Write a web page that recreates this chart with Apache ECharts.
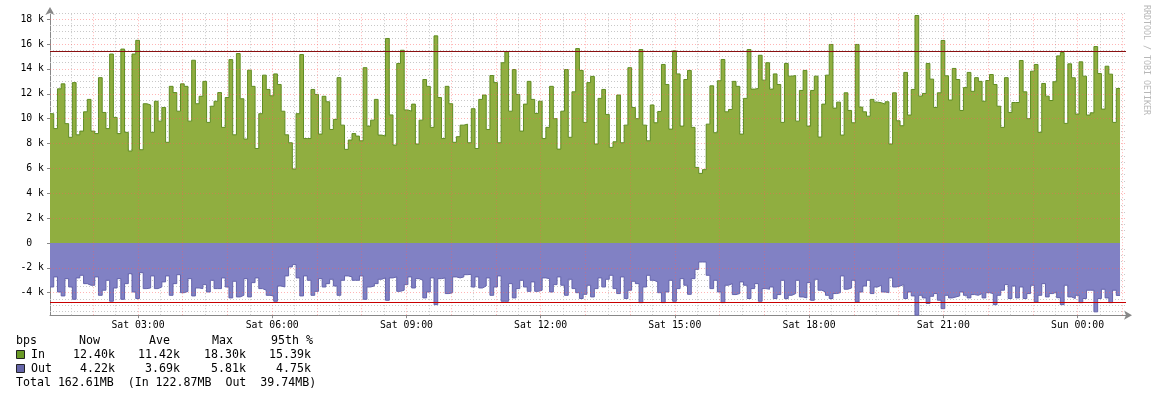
<!DOCTYPE html>
<html>
<head>
<meta charset="utf-8">
<style>
  html, body { margin: 0; padding: 0; background: #fff; }
  #chart { width: 1156px; height: 397px; }
</style>
<script src="https://cdn.jsdelivr.net/npm/echarts@6/dist/echarts.min.js"></script>
</head>
<body>
<div id="chart"></div>
<script>
// traffic samples, 5 minute steps, values in k bits per second
const startMinute = 62 // Sat 01:02
const stepMinutes = 5

const inValues = [
  10.4, 9.2, 12.4, 12.8, 9.6, 8.5, 12.9, 8.7, 9.0, 10.55, 11.55, 9.0, 8.8, 13.3, 10.5, 9.2, 15.2, 10.1, 8.8, 15.6,
  8.9, 7.4, 15.2, 16.3, 7.5, 11.2, 11.1, 8.9, 11.4, 9.8, 10.9, 8.1, 12.6, 12.1, 10.6, 12.8, 12.6, 9.8, 14.7, 11.2,
  11.8, 13.0, 9.7, 11.0, 11.4, 12.1, 9.3, 11.7, 14.75,
  8.7, 15.24, 11.6, 8.36, 13.9, 12.6, 7.6, 10.4, 13.5, 12.35, 11.84, 13.6, 12.75, 10.6, 8.7, 8.06, 5.95, 10.4, 15.16, 8.4,
  8.4, 12.35, 11.95, 8.76, 11.8, 11.36, 9.13, 9.94, 13.3, 9.48, 7.53, 8.28, 8.8, 8.6, 8.22, 14.1, 9.4, 9.88, 11.55, 8.68,
  8.6, 16.45, 10.3, 7.88, 14.44, 15.5, 10.7, 10.6,
  11.17, 7.96, 9.88, 13.15, 12.6, 9.3, 16.66, 11.7, 8.4, 12.6, 11.2, 8.1, 8.55, 9.48, 9.56, 8.06, 10.8, 7.6, 11.55, 11.9,
  9.13, 13.47, 12.9, 8.06, 14.5, 15.38, 10.6, 13.95, 11.95, 9.0, 11.17, 13.0, 11.55, 10.42, 11.4, 8.4, 9.3, 12.6, 10.0, 7.55,
  10.6, 13.95, 8.5, 12.16, 15.64, 13.88, 9.7, 12.9,
  13.4, 7.96, 11.63, 12.35, 10.34, 7.69, 8.14, 11.9, 8.06, 9.48, 14.1, 10.9, 10.0, 15.56, 9.48, 8.22, 11.1, 9.67, 10.58, 14.36,
  12.75, 9.16, 15.46, 13.6, 9.4, 13.15, 13.88, 9.3, 6.08, 5.6, 5.9, 9.56, 12.64, 8.87, 13.05, 14.76, 10.55, 10.74, 13.0, 12.6,
  8.76, 11.63, 15.56, 12.38, 12.43, 15.1, 13.1, 14.5,
  12.38, 13.6, 12.75, 9.7, 14.44, 13.42, 13.47, 9.8, 12.27, 13.88, 9.4, 12.27, 13.42, 8.52, 11.17, 13.5, 15.97, 10.85, 11.33, 8.68,
  12.08, 10.66, 9.67, 15.97, 10.93, 10.55, 10.2, 11.55, 11.33, 11.28, 11.17, 11.36, 7.96, 12.08, 9.83, 9.43, 13.72, 10.29, 12.35, 18.3,
  11.81, 12.03, 14.44, 13.18, 10.9, 12.08, 16.29, 13.45,
  11.5, 14.04, 13.15, 10.66, 12.5, 13.72, 12.2, 13.3, 13.0, 11.4, 13.07, 13.55, 12.75, 11.0, 9.3, 13.3, 10.5, 11.3, 11.3, 14.68,
  12.16, 10.0, 13.82, 14.36, 8.9, 12.83, 11.81, 11.46, 12.97, 15.05, 15.32, 9.62, 14.41, 13.29, 10.37, 14.57, 13.42, 10.29, 10.47, 15.8,
  13.63, 10.77, 14.22, 13.58, 9.7, 12.43
]

const outValues = [
  3.54, 2.73, 3.94, 4.26, 2.87, 3.54, 4.53, 2.81, 2.6, 3.27, 3.4, 3.4, 2.73, 4.21, 3.8, 3.0, 4.69, 3.62, 2.87, 4.53,
  3.27, 2.47, 3.94, 4.47, 2.39, 3.67, 3.62, 2.65, 3.67, 3.54, 3.13, 2.65, 4.21, 3.27, 2.55, 4.0, 3.9, 2.87, 4.26, 3.62,
  3.67, 3.35, 3.94, 3.0, 3.67, 3.67, 2.81, 3.54, 4.42, 3.08, 4.34, 4.21, 2.87, 4.34, 3.19, 2.81, 3.67, 3.8, 4.21, 4.26,
  4.69, 3.46, 3.54, 2.65, 1.93, 1.74, 2.81, 4.26, 2.65, 3.0, 4.21, 3.89, 2.87, 3.54, 3.27, 2.92, 3.46, 4.21, 3.0, 2.65,
  2.73, 3.0, 3.0, 2.65, 4.53, 3.54, 3.46, 3.27, 2.92, 2.8, 4.61, 2.81, 2.73, 3.89, 3.8, 3.35, 2.73,
  3.62, 2.87, 3.0, 4.42, 3.94, 2.81, 4.96, 2.87, 2.81, 4.07, 4.0, 2.73, 2.81, 2.73, 2.55, 2.52, 3.54, 2.73, 3.62, 3.46,
  2.81, 4.21, 3.54, 2.65, 4.69, 4.69, 3.27, 4.42, 3.67, 3.0, 3.54, 3.89, 3.13, 3.89, 3.8, 2.81, 2.87, 3.94, 3.35, 2.73,
  3.4, 4.21, 2.92, 3.67, 4.0, 4.47, 4.13, 3.4, 4.34, 3.67, 2.81, 3.54, 2.92, 2.6, 3.67, 4.07, 2.73, 4.47, 3.8, 3.08,
  3.27, 4.8, 3.54, 2.6, 3.0, 3.13, 4.0, 4.8, 3.94, 3.0, 4.69, 3.67, 2.87, 3.4, 4.13, 2.87, 2.12, 1.53, 1.53, 2.6,
  3.67, 3.0, 3.94, 4.8, 3.4, 3.27, 4.15, 4.07, 3.13, 3.4, 4.47, 3.67, 3.27, 4.69, 3.67, 3.72,
  3.54, 4.47, 4.15, 3.0, 4.47, 4.21, 4.07, 3.0, 4.34, 4.42, 3.19, 4.61, 2.92, 3.8, 3.94, 4.21, 4.47, 4.07, 4.0, 2.65,
  3.72, 3.62, 3.0, 4.75, 3.94, 3.46, 3.0, 4.07, 3.54, 3.4, 3.94, 4.0, 2.81, 3.54, 3.46, 3.35, 4.47, 3.94, 4.26, 5.81,
  4.21, 4.42, 4.87, 4.29, 4.07, 4.6, 5.28, 4.21, 4.42, 4.34, 4.26, 3.94, 4.21, 4.42, 4.15, 4.21, 4.07, 4.42, 4.0, 4.07,
  4.96, 4.21, 3.8, 3.35, 4.47, 3.46, 4.42, 3.54, 4.47, 4.07, 3.4, 4.75, 4.21, 3.27, 4.34, 4.07, 3.94, 4.4, 4.96, 3.4,
  4.34, 4.47, 4.21, 4.8, 4.47, 3.8, 3.8, 5.54, 4.47, 3.72, 4.42, 4.8, 3.8, 4.22
]

const inPct95 = 15.39
const outPct95 = 4.75

const yTicks = [-4, -2, 0, 2, 4, 6, 8, 10, 12, 14, 16, 18]
const timeTicks = [180, 360, 540, 720, 900, 1080, 1260, 1440]

const statHeader = ['bps', 'Now', 'Ave', 'Max', '95th %']
const inStats = ['12.40k', '11.42k', '18.30k', '15.39k']
const outStats = ['4.22k', '3.69k', '5.81k', '4.75k']
const totalLine = 'Total 162.61MB  (In 122.87MB  Out  39.74MB)'

const mono = '"DejaVu Sans Mono", monospace'

function toSeries(values, sign) {
  const pts = values.map((v, i) => [startMinute + i * stepMinutes, sign * v])
  // hold the last sample until the end of its step
  pts.push([startMinute + values.length * stepMinutes, sign * values[values.length - 1]])
  return pts
}

function timeLabel(v) {
  const day = v < 1440 ? 'Sat ' : 'Sun '
  const m = v % 1440
  return day + String(Math.floor(m / 60)).padStart(2, '0') + ':' + String(m % 60).padStart(2, '0')
}

// grid lines (drawn as mark lines so they follow the axis scales)
const minorLines = []
const majorLines = []
for (let v = -5.5; v <= 18.5; v += 0.5) {
  if (v % 2 === 0) {
    if (v !== 0) majorLines.push({ yAxis: v })
  } else {
    minorLines.push({ yAxis: v })
  }
}
for (let t = 90; t <= 1500; t += 30) {
  if (t % 60 === 0) majorLines.push({ xAxis: t })
  else minorLines.push({ xAxis: t })
}

const inData = toSeries(inValues, 1)
const outData = toSeries(outValues, -1)

const chart = echarts.init(document.getElementById('chart'))

const legendCols = [16, 79, 149, 212, 271]
const numRight = [115, 180, 246, 311]
const graphics = []
statHeader.forEach((t, i) => {
  graphics.push({ type: 'text', x: legendCols[i], y: 341, style: { text: t, font: '11.6px ' + mono, fill: '#000', align: 'left', verticalAlign: 'middle' } })
})
const legendRows = [
  { name: 'In', stats: inStats, color: '#6a9a26', y: 355 },
  { name: 'Out', stats: outStats, color: '#6565a8', y: 369 }
]
legendRows.forEach(r => {
  graphics.push({ type: 'rect', shape: { x: 16.5, y: r.y - 4.5, width: 8, height: 8 }, style: { fill: r.color, stroke: '#222', lineWidth: 1 } })
  graphics.push({ type: 'text', x: 31, y: r.y, style: { text: r.name, font: '11.6px ' + mono, fill: '#000', align: 'left', verticalAlign: 'middle' } })
  r.stats.forEach((s, i) => {
    graphics.push({ type: 'text', x: numRight[i], y: r.y, style: { text: s, font: '11.6px ' + mono, fill: '#000', align: 'right', verticalAlign: 'middle' } })
  })
})
graphics.push({ type: 'text', x: 16, y: 383, style: { text: totalLine, font: '11.6px ' + mono, fill: '#000', align: 'left', verticalAlign: 'middle' } })
graphics.push({
  type: 'text', x: 1146.5, y: 5, rotation: -Math.PI / 2,
  style: { text: 'RRDTOOL / TOBI OETIKER', font: '8.3px ' + mono, fill: '#b8b8b8', align: 'left', verticalAlign: 'middle' }
})

chart.setOption({
  animation: false,
  backgroundColor: '#fff',
  grid: { left: 50, right: 30, top: 13, bottom: 81.8 },
  xAxis: {
    type: 'value',
    min: startMinute,
    max: 1505,
    axisLine: {
      onZero: false,
      lineStyle: { color: '#888', width: 1 },
      symbol: ['none', 'arrow'],
      symbolSize: [7, 8],
      symbolOffset: [0, 6]
    },
    axisTick: { customValues: timeTicks, length: 3, lineStyle: { color: '#888' } },
    axisLabel: {
      customValues: timeTicks,
      formatter: timeLabel,
      fontFamily: mono,
      fontSize: 9.8,
      color: '#000',
      margin: 5
    },
    splitLine: { show: false }
  },
  yAxis: {
    type: 'value',
    min: -5.81,
    max: 18.5,
    axisLine: {
      show: true,
      lineStyle: { color: '#888', width: 1 },
      symbol: ['none', 'arrow'],
      symbolSize: [7, 8],
      symbolOffset: [0, 6]
    },
    axisTick: { show: true, customValues: yTicks, length: 3, lineStyle: { color: '#888' } },
    axisLabel: {
      customValues: yTicks,
      formatter: v => (v === 0 ? '0  ' : v + ' k'),
      fontFamily: mono,
      fontSize: 9.8,
      color: '#000',
      margin: 6
    },
    splitLine: { show: false }
  },
  graphic: graphics,
  series: [
    {
      name: 'grid-minor',
      type: 'line',
      data: inData,
      symbol: 'none',
      silent: true,
      lineStyle: { opacity: 0 },
      z: 1,
      markLine: {
        silent: true,
        z: 1,
        symbol: 'none',
        label: { show: false },
        lineStyle: { color: '#c8c8c8', width: 1, type: [1, 2] },
        data: minorLines
      }
    },
    {
      name: 'In',
      type: 'line',
      step: 'end',
      data: inData,
      symbol: 'none',
      lineStyle: { color: '#5f8c22', width: 1 },
      areaStyle: { color: '#90ae40', opacity: 1 },
      z: 2
    },
    {
      name: 'Out',
      type: 'line',
      step: 'end',
      data: outData,
      symbol: 'none',
      lineStyle: { color: '#6464ac', width: 1 },
      areaStyle: { color: '#8181c4', opacity: 1 },
      z: 2
    },
    {
      name: 'grid-major',
      type: 'line',
      data: inData,
      symbol: 'none',
      silent: true,
      lineStyle: { opacity: 0 },
      z: 3,
      markLine: {
        silent: true,
        symbol: 'none',
        label: { show: false },
        lineStyle: { color: 'rgba(255,90,90,0.45)', width: 1, type: [1, 2] },
        data: majorLines
      }
    },
    {
      name: 'pct95',
      type: 'line',
      data: inData,
      symbol: 'none',
      silent: true,
      lineStyle: { opacity: 0 },
      z: 4,
      markLine: {
        silent: true,
        symbol: 'none',
        label: { show: false },
        data: [
          { yAxis: inPct95, lineStyle: { color: '#8a1010', width: 1, type: 'solid' } },
          { yAxis: -outPct95, lineStyle: { color: '#c80000', width: 1, type: 'solid' } }
        ]
      }
    }
  ]
})
</script>
</body>
</html>
